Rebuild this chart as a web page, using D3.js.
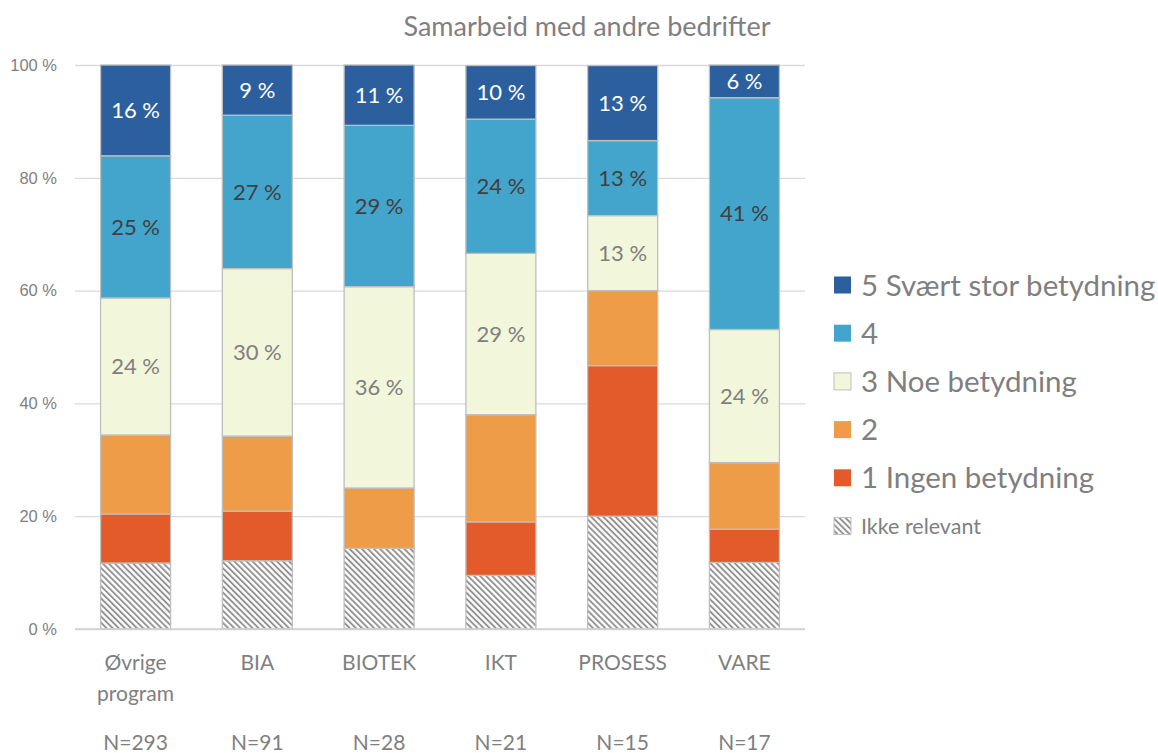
<!DOCTYPE html>
<html>
<head>
<meta charset="utf-8">
<script src="https://cdn.jsdelivr.net/npm/d3@7"></script>
<style>
  body { margin: 0; background: #fff; }
  svg { font-family: Lato, "Open Sans", sans-serif; }
</style>
</head>
<body>
<div id="chart"></div>
<script>
// data
var categories = ["Øvrige program", "BIA", "BIOTEK", "IKT", "PROSESS", "VARE"];
var nLabels = ["N=293", "N=91", "N=28", "N=21", "N=15", "N=17"];
var seriesNames = ["Ikke relevant", "1 Ingen betydning", "2", "3 Noe betydning", "4", "5 Svært stor betydning"];
var ikkeRelevant = [11.7, 12.1, 14.3, 9.5, 20.0, 11.8];
var ingen = [8.7, 8.8, 0.0, 9.5, 26.7, 5.9];
var to = [14.0, 13.3, 10.7, 19.0, 13.3, 11.8];
var noe = [24.3, 29.7, 35.7, 28.6, 13.3, 23.6];
var fire = [25.2, 27.2, 28.6, 23.8, 13.3, 41.1];
var svaertStor = [16.1, 8.9, 10.7, 9.5, 13.3, 5.8];
var yTicks = [0, 20, 40, 60, 80, 100];

var seriesValues = [ikkeRelevant, ingen, to, noe, fire, svaertStor];
var colors = ["url(#hatch)", "#e35b2b", "#ee9c48", "#f2f6da", "#43a5cb", "#2c5f9e"];
var labelColors = [null, null, null, "#7f7f7f", "#404040", "#ffffff"];

var width = 1158, height = 753;
var margin = { top: 65, left: 75, right: 353, bottom: 124 };

var svg = d3.select("#chart").append("svg")
  .attr("width", width)
  .attr("height", height);

// hatch pattern
var pat = svg.append("defs").append("pattern")
  .attr("id", "hatch")
  .attr("patternUnits", "userSpaceOnUse")
  .attr("width", 4.3)
  .attr("height", 4.3)
  .attr("patternTransform", "rotate(-45)");
pat.append("rect").attr("width", 4.3).attr("height", 4.3).attr("fill", "#fff");
pat.append("line").attr("x1", 1).attr("x2", 1).attr("y1", 0).attr("y2", 4.3)
  .attr("stroke", "#8c8c8c").attr("stroke-width", 1.8);

var x = d3.scaleBand()
  .domain(categories)
  .range([margin.left, width - margin.right])
  .paddingInner(0.425)
  .paddingOuter(0.21);

var y = d3.scaleLinear()
  .domain([0, 100])
  .range([height - margin.bottom, margin.top]);

// grid lines + y axis
var yAxis = d3.axisLeft(y)
  .tickValues(yTicks)
  .tickSize(-(width - margin.right - margin.left))
  .tickPadding(18)
  .tickFormat(function (d) { return d + " %"; });
var gY = svg.append("g")
  .attr("transform", "translate(" + margin.left + ",0)")
  .call(yAxis);
gY.select(".domain").remove();
gY.selectAll(".tick line").attr("stroke", "#d9d9d9").attr("stroke-width", 1.3);
gY.selectAll(".tick text").attr("fill", "#7f7f7f").style("font-size", "16.5px");

// stacked data
var rows = categories.map(function (c, i) {
  var r = { cat: c };
  seriesNames.forEach(function (s, k) { r[s] = seriesValues[k][i]; });
  return r;
});
var stack = d3.stack().keys(seriesNames)(rows);

var layers = svg.selectAll(".layer")
  .data(stack)
  .enter()
  .append("g")
  .attr("fill", function (d, k) { return colors[k]; });

layers.selectAll("rect")
  .data(function (d) { return d; })
  .enter()
  .append("rect")
  .attr("x", function (d) { return x(d.data.cat); })
  .attr("y", function (d) { return y(d[1]); })
  .attr("width", x.bandwidth())
  .attr("height", function (d) { return y(d[0]) - y(d[1]); })
  .attr("stroke", "#bfbfbf")
  .attr("stroke-width", 1.3)
  .style("display", function (d) { return d[1] - d[0] > 0 ? null : "none"; });

// value labels (only 3, 4, 5)
layers.each(function (layer, k) {
  if (!labelColors[k]) return;
  d3.select(this).selectAll("text")
    .data(layer)
    .enter()
    .append("text")
    .attr("x", function (d) { return x(d.data.cat) + x.bandwidth() / 2; })
    .attr("y", function (d) { return (y(d[0]) + y(d[1])) / 2; })
    .attr("dy", "0.35em")
    .attr("text-anchor", "middle")
    .attr("fill", labelColors[k])
    .style("font-size", "22px")
    .text(function (d) { return Math.round(d[1] - d[0]) + " %"; });
});

// baseline
svg.append("line")
  .attr("x1", margin.left).attr("x2", width - margin.right)
  .attr("y1", y(0)).attr("y2", y(0))
  .attr("stroke", "#d0d0d0").attr("stroke-width", 1.5);

// category labels
var catG = svg.append("g");
categories.forEach(function (c, i) {
  var words = c.split(" ");
  var t = catG.append("text")
    .attr("x", x(c) + x.bandwidth() / 2)
    .attr("y", 670)
    .attr("text-anchor", "middle")
    .attr("fill", "#7f7f7f")
    .style("font-size", "21px");
  words.forEach(function (w, j) {
    t.append("tspan")
      .attr("x", x(c) + x.bandwidth() / 2)
      .attr("dy", j === 0 ? 0 : 31)
      .text(w);
  });
  catG.append("text")
    .attr("x", x(c) + x.bandwidth() / 2)
    .attr("y", 750)
    .attr("text-anchor", "middle")
    .attr("fill", "#7f7f7f")
    .style("font-size", "21px")
    .text(nLabels[i]);
});

// title
svg.append("text")
  .attr("x", 587)
  .attr("y", 36)
  .attr("text-anchor", "middle")
  .attr("fill", "#7f7f7f")
  .style("font-size", "27px")
  .text("Samarbeid med andre bedrifter");

// legend
var legendOrder = seriesNames.slice().reverse();
var legend = svg.append("g").attr("transform", "translate(834,285)");
legendOrder.forEach(function (s, j) {
  var k = seriesNames.indexOf(s);
  var small = k === 0;
  var g = legend.append("g").attr("transform", "translate(0," + (j * 48.2) + ")");
  g.append("rect")
    .attr("x", 0).attr("y", -8.5)
    .attr("width", 17).attr("height", 17)
    .attr("fill", colors[k])
    .attr("stroke", k === 0 || k === 3 ? "#bfbfbf" : "none")
    .attr("stroke-width", 1);
  g.append("text")
    .attr("x", 27)
    .attr("y", 0)
    .attr("dy", "0.36em")
    .attr("fill", "#7f7f7f")
    .style("font-size", small ? "21.5px" : "29.5px")
    .text(s);
});
</script>
</body>
</html>
